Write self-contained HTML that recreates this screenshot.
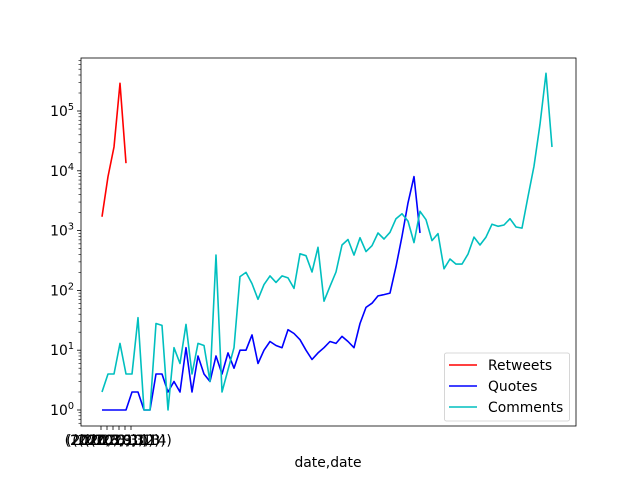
<!DOCTYPE html>
<html><head><meta charset="utf-8">
<style>
html,body{margin:0;padding:0;background:#fff;}
svg{display:block;font-family:"DejaVu Sans","Liberation Sans",sans-serif;}
</style></head>
<body>
<svg id="chart" width="640" height="480" viewBox="0 0 640 480" xmlns="http://www.w3.org/2000/svg">
<rect x="0" y="0" width="640" height="480" fill="#fff"/>
<g id="plot"></g>
</svg>
<script>
const retweets = [1700, 8000, 25000, 290000, 13400];
const quotes = [1,1,1,1,1,2,2,1,1,4,4,2,3,2,11,2,8,4,3,8,4,9,5,10,10,18,6,10,14,12,11,22,19,15,10,7,9,11,14,13,17,14,11,28,52,61,81,85,90,250,800,2900,8000,910];
const comments = [2,4,4,13,4,4,35,1,1,28,26,1,11,6,27,4,13,12,3,390,2,4.7,11,170,200,130,71,125,175,136,175,162,108,410,380,203,525,66,117,203,575,710,390,760,445,560,910,725,935,1580,1920,1440,630,2100,1520,680,890,230,335,275,275,405,780,575,780,1280,1180,1240,1580,1150,1100,3700,12000,60000,427000,25000];
const yTickExps = [0,1,2,3,4,5];
const xTickLabels = ["(2020,3,9)","(2020,3,10)","(2020,3,11)","(2020,3,12)","(2020,3,13)","(2020,3,14)"];

const NS = "http://www.w3.org/2000/svg";
const g = document.getElementById('plot');
const L = 81, R = 576, T = 58, B = 426;
const x0 = 102, dx = 6.0;
function xs(i){ return x0 + i*dx; }
function ys(v){ return 410 - Math.log10(v)*59.8; }
function mk(tag, attrs, parent){
  const e = document.createElementNS(NS, tag);
  for (const k in attrs) e.setAttribute(k, attrs[k]);
  (parent||g).appendChild(e);
  return e;
}
function series(arr, color, name){
  const d = arr.map((v,i)=>(i?'L':'M')+xs(i).toFixed(1)+','+ys(v).toFixed(1)).join(' ');
  const p = mk('path', {d:d, fill:'none', stroke:color, 'stroke-width':1.6, 'stroke-linejoin':'round'});
  
  
}
series(retweets, '#ff0000', 'retweets-line');
series(quotes, '#0000ff', 'quotes-line');
series(comments, '#00bfbf', 'comments-line');

const fr = mk('rect', {x:L, y:T, width:R-L, height:B-T, fill:'none', stroke:'#000', 'stroke-width':0.8});



yTickExps.forEach(e=>{
  const y = ys(Math.pow(10,e));
  const t = mk('line', {x1:L-4, x2:L, y1:y, y2:y, stroke:'#000', 'stroke-width':0.8});
  
  
  const tx = mk('text', {x:L-7, y:y+5, 'text-anchor':'end', 'font-size':13.9, fill:'#000'});
  
  
  tx.appendChild(document.createTextNode('10'));
  const sp = mk('tspan', {dy:-6, 'font-size':9.7}, tx);
  sp.textContent = String(e);
});
for (let e=-1; e<6; e++){
  for (let m=2; m<10; m++){
    const v = m*Math.pow(10,e);
    const y = ys(v);
    if (y < T || y > B) continue;
    const t = mk('line', {x1:L-2.5, x2:L, y1:y, y2:y, stroke:'#000', 'stroke-width':0.6});
    
    
  }
}
xTickLabels.forEach((lab,i)=>{
  const x = 101 + i*6;
  const t = mk('line', {x1:x, x2:x, y1:B, y2:B+4, stroke:'#000', 'stroke-width':0.8});
  
  
  const tx = mk('text', {x:x, y:B+19, 'text-anchor':'middle', 'font-size':13.9, fill:'#000'});
  
  
  tx.textContent = lab;
});
const xt = mk('text', {x:328, y:467, 'text-anchor':'middle', 'font-size':13.9, fill:'#000'});


xt.textContent = 'date,date';

const lg = mk('g', {});


mk('rect', {x:444.5, y:353, width:125, height:68, rx:2, fill:'#fff', 'fill-opacity':0.8, stroke:'#ccc', 'stroke-width':0.8}, lg);
[['Retweets','#ff0000'],['Quotes','#0000ff'],['Comments','#00bfbf']].forEach((it,i)=>{
  const y = 365 + i*21;
  const e = mk('g', {}, lg);
  
  
  mk('line', {x1:449, x2:477, y1:y, y2:y, stroke:it[1], 'stroke-width':1.6}, e);
  const t = mk('text', {x:488, y:y+5, 'font-size':13.9, fill:'#000'}, e);
  t.textContent = it[0];
});
</script>
</body></html>
